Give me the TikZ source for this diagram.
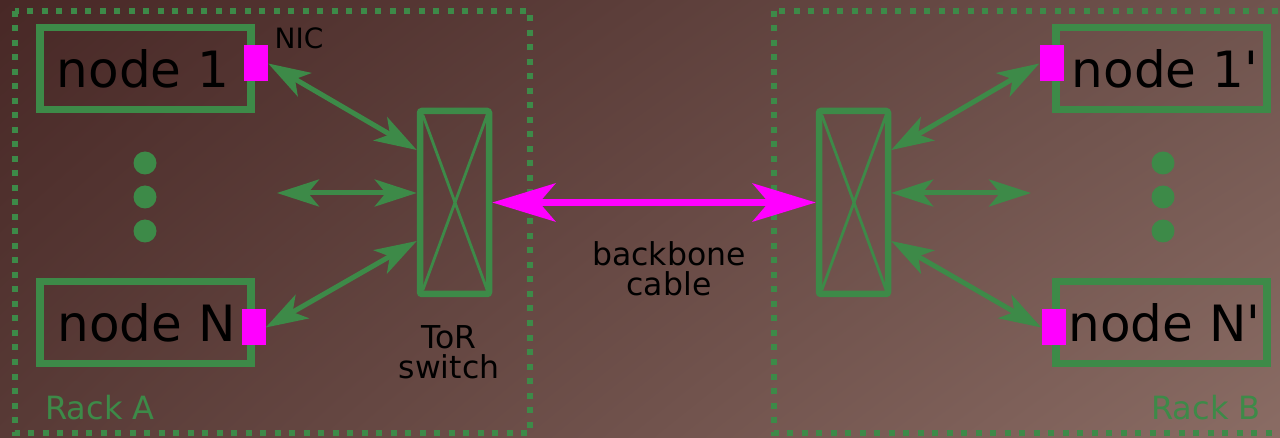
\documentclass[tikz,border=0pt]{standalone}
\usepackage{fontspec}
\setmainfont{DejaVu Sans}
\usetikzlibrary{arrows.meta,calc,shadings}
\definecolor{grn}{RGB}{61,138,72}
\definecolor{mag}{RGB}{255,0,255}
\definecolor{bgA}{RGB}{72,40,38}
\definecolor{bgB}{RGB}{112,84,78}
\definecolor{bgC}{RGB}{88,58,54}
\definecolor{bgD}{RGB}{138,108,100}
\tikzset{
  rackbox/.style={draw=grn,line width=6pt,dash pattern=on 6pt off 8.5pt},
  hostbox/.style={draw=grn,line width=7.5pt,minimum width=211pt,minimum height=82pt,inner sep=0pt,font=\fontsize{50}{60}\selectfont},
  nic/.style={fill=mag,draw=none,minimum width=24pt,minimum height=36pt,inner sep=0pt},
  switchbox/.style={draw=grn,line width=6.5pt,rounded corners=2pt,minimum width=69pt,minimum height=183pt,inner sep=0pt},
  xline/.style={draw=grn,line width=2.8pt},
  dot/.style={circle,fill=grn,minimum size=23pt,inner sep=0pt},
  link/.style={draw=grn,line width=5pt,{Stealth[length=42pt,width=27pt,inset=11pt]}-{Stealth[length=42pt,width=27pt,inset=11pt]}},
  backbone/.style={draw=mag,line width=7.5pt,{Stealth[length=63pt,width=38pt,inset=16pt]}-{Stealth[length=63pt,width=38pt,inset=16pt]}},
  lbl/.style={text=black,inner sep=0pt,font=\fontsize{31.5}{30}\selectfont,align=center},
  racklbl/.style={text=grn,inner sep=0pt,font=\fontsize{32}{36}\selectfont},
}
\begin{document}
\begin{tikzpicture}[x=1pt,y=-1pt]
\useasboundingbox (0,0) rectangle (1280,438);
\clip (0,0) rectangle (1280,438);
\shade[upper left=bgA,upper right=bgB,lower left=bgC,lower right=bgD] (0,0) rectangle (1280,438);

% racks
\draw[rackbox] (15,11) rectangle (530,433);
\draw[rackbox] (774,11) rectangle (1300,433);

% hosts rack A
\node[hostbox] (n1) at (145.5,68.5) {\hspace*{-5pt}node 1};
\node[hostbox] (nN) at (145.5,322.5) {\hspace*{2pt}node N};
\node[nic] (nic1) at (256,63.5) {};
\node[nic] (nicN) at (253.5,327.5) {};
\node[dot] (da1) at (145,163) {};
\node[dot] (da2) at (145,197) {};
\node[dot] (da3) at (145,231) {};

% hosts rack B
\node[hostbox] (m1) at (1161.5,68.5) {\hspace*{7pt}node 1\textquotesingle};
\node[hostbox] (mN) at (1161.5,322.5) {\hspace*{6pt}node N\textquotesingle};
\node[nic] (mic1) at (1051.5,63.5) {};
\node[nic] (micN) at (1053.5,327.5) {};
\node[dot] (db1) at (1163,163) {};
\node[dot] (db2) at (1163,197) {};
\node[dot] (db3) at (1163,231) {};

% switches
\node[switchbox] (swA) at (454.5,202.5) {};
\node[switchbox] (swB) at (853.5,202.5) {};
\foreach \s in {swA,swB}{
  \draw[xline] ([shift={(6pt,-7pt)}]\s.north west) -- ([shift={(-5pt,7pt)}]\s.south east);
  \draw[xline] ([shift={(-5pt,-7pt)}]\s.north east) -- ([shift={(6pt,7pt)}]\s.south west);
}

% links rack A
\coordinate (fa) at (277,193);
\draw[link] (nic1.east) -- ([yshift=52.5pt]swA.west);
\draw[link] (fa) -- ([yshift=9.5pt]swA.west);
\draw[link] (nicN.east) -- ([yshift=-38.5pt]swA.west);

% links rack B
\coordinate (fb) at (1031,193);
\draw[link] ([yshift=52.5pt]swB.east) -- (mic1.west);
\draw[link] ([yshift=9.5pt]swB.east) -- (fb);
\draw[link] ([yshift=-38.5pt]swB.east) -- (micN.west);

% backbone
\draw[backbone] (swA.east) -- (swB.west);

% labels
\node[lbl,font=\fontsize{28}{30}\selectfont] (nicl) at (299,38) {NIC};
\node[lbl] (torl) at (449,352) {ToR\\switch};
\node[lbl] (bbl) at (669,269) {backbone\\cable};
\node[racklbl] (ra) at (100,408) {Rack A};
\node[racklbl] (rb) at (1206,408) {Rack B};
\end{tikzpicture}
\end{document}
